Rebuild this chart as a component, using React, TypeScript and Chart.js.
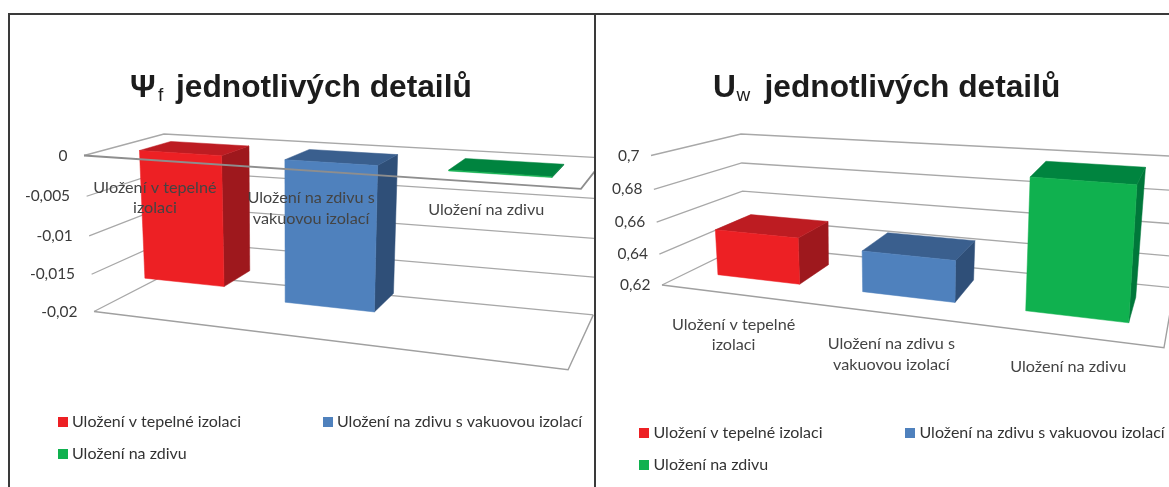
import React, { useEffect, useRef } from "react";
import { Chart, registerables } from "chart.js";

Chart.register(...registerables);

// ---------- data ----------
const categories: string[][] = [
  ["Uložení v tepelné", "izolaci"],
  ["Uložení na zdivu s", "vakuovou izolací"],
  ["Uložení na zdivu"],
];
const legendLabels = ["Uložení v tepelné izolaci", "Uložení na zdivu s vakuovou izolací", "Uložení na zdivu"];
const psiValues = [-0.0166, -0.0178, -0.0001];
const uwValues = [0.65, 0.646, 0.698];
const psiTicks = [0, -0.005, -0.01, -0.015, -0.02];
const psiTickLabels = ["0", "-0,005", "-0,01", "-0,015", "-0,02"];
const uwTicks = [0.7, 0.68, 0.66, 0.64, 0.62];
const uwTickLabels = ["0,7", "0,68", "0,66", "0,64", "0,62"];
const frontColors = ["#ed2024", "#4f81bd", "#10b14f"];
const topColors = ["#bd1c22", "#3a5f8e", "#00843f"];
const sideColors = ["#9e181d", "#2f4f78", "#00773a"];

type P = [number, number];
interface Cfg {
  originX: number;
  frontQuad: [P, P, P, P]; // TL TR BR BL
  backQuad: [P, P, P, P];
  depth: [number, number];
  ticks: number[];
  tickLabels: string[];
  tickOffset: number;
  labelOffset: number;
  title: { text: string; size: number; sub?: boolean; x: number }[];
  legendSwatchX: number[];
  legendTextGap: number;
  legendRows: number[];
  baseAtTop: boolean;
  barShift: number;
}

const titleSize = 31.7;

const psiCfg: Cfg = {
  originX: 0,
  frontQuad: [[84, 155.5], [583, 189], [570, 370], [94, 311.5]],
  backQuad: [[164, 134], [607, 158], [595, 315], [167, 274]],
  depth: [0.32, 0.73],
  ticks: psiTicks,
  tickLabels: psiTickLabels,
  tickOffset: -16.5,
  labelOffset: 27.5,
  title: [
    { text: "Ψ", size: titleSize, x: 130 },
    { text: "f", size: 19, sub: true, x: 158 },
    { text: "jednotlivých detailů", size: titleSize, x: 176 },
  ],
  legendSwatchX: [58, 323, 58],
  legendTextGap: 14,
  legendRows: [422, 422, 454],
  baseAtTop: true,
  barShift: 2,
};

const uwCfg: Cfg = {
  originX: 595,
  frontQuad: [[651, 155.5], [1175, 198], [1166, 348], [662, 285]],
  backQuad: [[741, 134], [1188, 157], [1176, 288], [744, 245]],
  depth: [0.34, 0.78],
  ticks: uwTicks,
  tickLabels: uwTickLabels,
  tickOffset: -11.5,
  labelOffset: 30.5,
  title: [
    { text: "U", size: titleSize, x: 713 },
    { text: "w", size: 19, sub: true, x: 736.5 },
    { text: "jednotlivých detailů", size: titleSize, x: 764.5 },
  ],
  legendSwatchX: [639, 905, 639],
  legendTextGap: 14.5,
  legendRows: [433, 433, 465],
  baseAtTop: false,
  barShift: 0,
};

const lerp = (a: number, b: number, t: number) => a + (b - a) * t;
const warpU = (s: number) => 0.824 * s + 0.172 * s * s;
const warpV = (v: number) => 1.06 * v - 0.06 * v * v;

function bilinear(q: [P, P, P, P], u: number, v: number): P {
  const tx = lerp(q[0][0], q[1][0], u);
  const ty = lerp(q[0][1], q[1][1], u);
  const bx = lerp(q[3][0], q[2][0], u);
  const by = lerp(q[3][1], q[2][1], u);
  return [lerp(tx, bx, v), lerp(ty, by, v)];
}

function project(chart: any, cfg: Cfg, px: number, py: number, w: number): P {
  const a = chart.chartArea;
  const u = warpU((px - a.left) / (a.right - a.left));
  const v = warpV((py - a.top) / (a.bottom - a.top));
  const f = bilinear(cfg.frontQuad, u, v);
  const b = bilinear(cfg.backQuad, u, v);
  return [lerp(f[0], b[0], w) - cfg.originX, lerp(f[1], b[1], w)];
}

function poly(ctx: CanvasRenderingContext2D, pts: P[], fill: string) {
  ctx.beginPath();
  pts.forEach((p, i) => (i ? ctx.lineTo(p[0], p[1]) : ctx.moveTo(p[0], p[1])));
  ctx.closePath();
  ctx.fillStyle = fill;
  ctx.fill();
  ctx.strokeStyle = fill;
  ctx.lineWidth = 0.5;
  ctx.stroke();
}

function path(ctx: CanvasRenderingContext2D, pts: P[], color: string, width: number) {
  ctx.beginPath();
  pts.forEach((p, i) => (i ? ctx.lineTo(p[0], p[1]) : ctx.moveTo(p[0], p[1])));
  ctx.strokeStyle = color;
  ctx.lineWidth = width;
  ctx.stroke();
}

const pseudo3d = {
  id: "pseudo3d",
  beforeDatasetsDraw(chart: any, _a: any, opts: any) {
    const cfg: Cfg = opts.cfg;
    const ctx = chart.ctx;
    const area = chart.chartArea;
    const y = chart.scales.y;
    ctx.save();
    cfg.ticks.forEach((t) => {
      const py = y.getPixelForValue(t);
      path(
        ctx,
        [
          project(chart, cfg, area.left, py, 0),
          project(chart, cfg, area.left, py, 1),
          project(chart, cfg, area.right, py, 1),
        ],
        "#a8a8a8",
        1.3,
      );
    });
    // lower plane's front and right edges
    path(
      ctx,
      [
        project(chart, cfg, area.left, area.bottom, 0),
        project(chart, cfg, area.right, area.bottom, 0),
        project(chart, cfg, area.right, area.bottom, 1),
      ],
      "#a0a0a0",
      1.4,
    );
    ctx.restore();
  },
  beforeDatasetDraw(chart: any, args: any, opts: any) {
    const cfg: Cfg = opts.cfg;
    const ctx = chart.ctx;
    const [w0, w1] = cfg.depth;
    const meta = chart.getDatasetMeta(args.index);
    ctx.save();
    meta.data.forEach((el: any, i: number) => {
      const { x, y, base, width } = el.getProps(["x", "y", "base", "width"], true);
      const x0 = x - width / 2 + cfg.barShift;
      const x1 = x + width / 2 + cfg.barShift;
      const top = Math.min(y, base);
      const bot = Math.max(y, base);
      const P0 = (px: number, py: number, w: number) => project(chart, cfg, px, py, w);
      poly(ctx, [P0(x1, top, w0), P0(x1, top, w1), P0(x1, bot, w1), P0(x1, bot, w0)], sideColors[i]);
      poly(ctx, [P0(x0, top, w0), P0(x1, top, w0), P0(x1, top, w1), P0(x0, top, w1)], topColors[i]);
      poly(ctx, [P0(x0, top, w0), P0(x1, top, w0), P0(x1, bot, w0), P0(x0, bot, w0)], frontColors[i]);
    });
    ctx.restore();
    return false;
  },
  afterDatasetsDraw(chart: any, _a: any, opts: any) {
    const cfg: Cfg = opts.cfg;
    const ctx = chart.ctx;
    const area = chart.chartArea;
    const xs = chart.scales.x;
    const ys = chart.scales.y;
    ctx.save();
    // front edge of the base plane, in front of the bars
    if (cfg.baseAtTop) {
      path(
        ctx,
        [
          project(chart, cfg, area.left, area.top, 0),
          project(chart, cfg, area.right, area.top, 0),
          project(chart, cfg, area.right, area.top, 1),
        ],
        "#8e8e8e",
        1.8,
      );
    }
    // value axis labels
    ctx.font = "15.5px Lato";
    ctx.fillStyle = "#3a3a3a";
    ctx.textAlign = "right";
    ctx.textBaseline = "middle";
    cfg.ticks.forEach((t, i) => {
      const p = project(chart, cfg, area.left, ys.getPixelForValue(t), 0);
      ctx.fillText(cfg.tickLabels[i], p[0] + cfg.tickOffset, p[1]);
    });
    // category axis labels
    ctx.font = "16.2px Lato";
    ctx.fillStyle = "#444444";
    ctx.textAlign = "center";
    const planePy = cfg.baseAtTop ? area.top : area.bottom;
    categories.forEach((lines, i) => {
      const p = project(chart, cfg, xs.getPixelForValue(i), planePy, 0);
      lines.forEach((line, j) => ctx.fillText(line, p[0], p[1] + cfg.labelOffset + j * 20.5));
    });
    // title
    ctx.fillStyle = "#1c1c1c";
    ctx.textAlign = "left";
    ctx.textBaseline = "alphabetic";
    cfg.title.forEach((part) => {
      ctx.font = `${part.sub ? "normal" : "bold"} ${part.size}px "Liberation Sans"`;
      ctx.fillText(part.text, part.x - cfg.originX, part.sub ? 101 : 97);
    });
    // legend
    ctx.font = "16px Lato";
    ctx.textBaseline = "middle";
    legendLabels.forEach((label, i) => {
      const sx = cfg.legendSwatchX[i] - cfg.originX;
      const ry = cfg.legendRows[i];
      ctx.fillStyle = frontColors[i];
      ctx.fillRect(sx, ry - 5, 10, 10);
      ctx.fillStyle = "#333333";
      ctx.fillText(label, sx + cfg.legendTextGap, ry);
    });
    ctx.restore();
  },
};

function Panel({ cfg, values, min, max, base, left, width }: { cfg: Cfg; values: number[]; min: number; max: number; base: number; left: number; width: number }) {
  const ref = useRef<HTMLCanvasElement>(null);
  useEffect(() => {
    const chart = new Chart(ref.current as HTMLCanvasElement, {
      type: "bar",
      data: {
        labels: categories.map((c) => c.join(" ")),
        datasets: [
          {
            label: "Detail",
            data: values,
            base,
            backgroundColor: frontColors,
            barPercentage: 0.58,
            categoryPercentage: 1,
          } as any,
        ],
      },
      options: {
        animation: false,
        responsive: false,
        layout: { padding: { left: 90, right: 20, top: 155, bottom: 150 } },
        plugins: {
          legend: { display: false },
          title: { display: false },
          tooltip: { enabled: false },
          pseudo3d: { cfg },
        } as any,
        scales: {
          x: { display: false, offset: true },
          y: { display: false, min, max },
        },
      },
      plugins: [pseudo3d as any],
    });
    return () => chart.destroy();
  }, []);
  return (
    <canvas
      ref={ref}
      width={width}
      height={487}
      style={{ position: "absolute", left, top: 0, width, height: 487, display: "block" }}
    />
  );
}

export default function App() {
  const line = "#3a3a3a";
  return (
    <div style={{ position: "fixed", left: 0, top: 0, width: 1169, height: 487, overflow: "hidden", background: "#fff" }}>
      <Panel cfg={psiCfg} values={psiValues} min={-0.02} max={0} base={0} left={0} width={594} />
      <Panel cfg={uwCfg} values={uwValues} min={0.62} max={0.7} base={0.62} left={595} width={574} />
      <div style={{ position: "absolute", left: 8, top: 13, width: 1161, height: 1.5, background: line }} />
      <div style={{ position: "absolute", left: 8, top: 13, width: 1.5, height: 474, background: line }} />
      <div style={{ position: "absolute", left: 594, top: 13, width: 1.5, height: 474, background: line }} />
    </div>
  );
}
